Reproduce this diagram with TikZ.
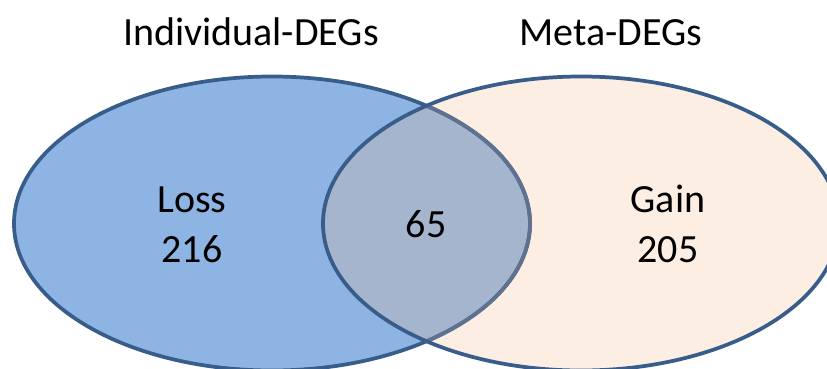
\documentclass[tikz,border=0pt]{standalone}
\usepackage{fontspec}
\setmainfont{Carlito}
\definecolor{rand}{HTML}{385D8A}
\definecolor{randhell}{HTML}{5E7290}
\definecolor{links}{HTML}{8EB4E3}
\definecolor{rechts}{HTML}{FDEEE4}
\definecolor{schnitt}{HTML}{A5B5CE}
\begin{document}
\begin{tikzpicture}[x=0.75pt, y=-0.75pt,
	beschr/.style={font=\fontsize{30}{37.5}\selectfont, inner sep=0pt, align=center},
	randlinie/.style={line width=2.8pt}]
	\useasboundingbox (0,0) rectangle (827,368);
	\clip (0,0) rectangle (827,368);
	% Flaechen
	\fill[links] (272,223.5) ellipse (193.5pt and 110.25pt);
	\fill[rechts] (581,223.5) ellipse (193.5pt and 110.25pt);
	\begin{scope}
		\clip (272,223.5) ellipse (193.5pt and 110.25pt);
		\fill[schnitt] (581,223.5) ellipse (193.5pt and 110.25pt);
	\end{scope}
	% Raender
	\draw[rand, randlinie] (272,223.5) ellipse (193.5pt and 110.25pt);
	\begin{scope}
		\clip (581,223.5) ellipse (193.5pt and 110.25pt);
		\draw[randhell, randlinie] (272,223.5) ellipse (193.5pt and 110.25pt);
	\end{scope}
	\draw[rand, randlinie] (581,223.5) ellipse (193.5pt and 110.25pt);
	% Ueberschriften
	\node[beschr, anchor=base] (titelL) at (251,45) {Individual-DEGs};
	\node[beschr, anchor=base] (titelR) at (611,45) {Meta-DEGs};
	% Zahlen
	\node[beschr, anchor=base] (verlust) at (192,262) {Loss\\216};
	\node[beschr, anchor=base] (schnittzahl) at (426,237) {65};
	\node[beschr, anchor=base] (gewinn) at (668,262) {Gain\\205};
\end{tikzpicture}
\end{document}
